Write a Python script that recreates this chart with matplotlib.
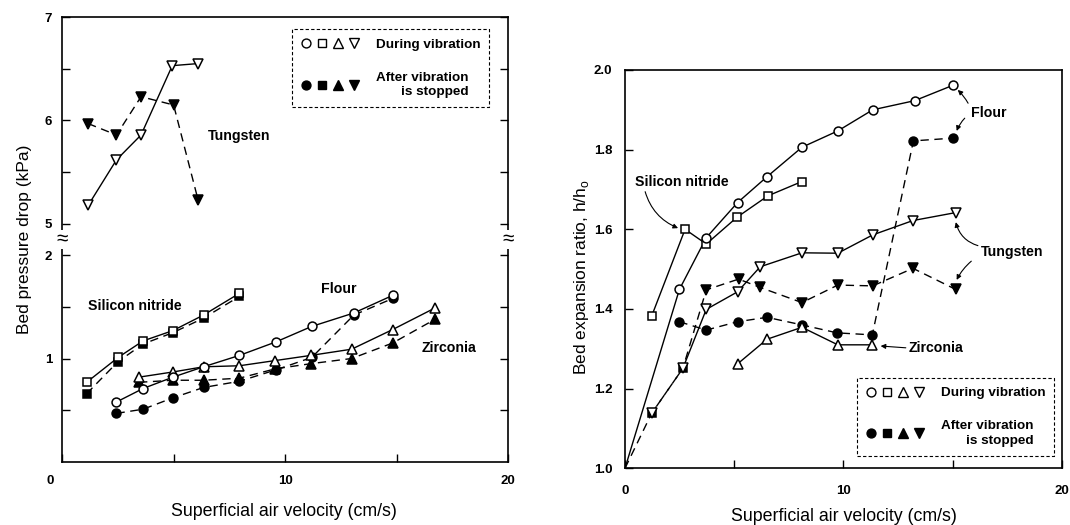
import numpy as np
import matplotlib
matplotlib.use("Agg")
import matplotlib.pyplot as plt
import matplotlib.transforms as mtransforms
from matplotlib.lines import Line2D
from matplotlib.legend_handler import HandlerTuple

plt.rcParams['font.family'] = ['Liberation Sans', 'DejaVu Sans']

# ---- left panel: bed pressure drop (kPa) vs superficial air velocity (cm/s)
tung_v = [1.17, 2.44, 3.54, 4.94, 6.10]
tung_on = [5.18, 5.62, 5.86, 6.53, 6.55]
tung_off_v = [1.17, 2.44, 3.54, 5.00, 6.10]
tung_off = [5.97, 5.86, 6.23, 6.15, 5.23]

sin_v = [1.10, 2.51, 3.63, 4.97, 6.34, 7.95]
sin_on = [0.77, 1.01, 1.17, 1.27, 1.42, 1.63]
sin_off = [0.66, 0.97, 1.14, 1.25, 1.39, 1.60]

flour_v = [2.44, 3.63, 4.97, 6.34, 7.95, 9.58, 11.19, 13.08, 14.82]
flour_on = [0.58, 0.71, 0.82, 0.92, 1.03, 1.16, 1.31, 1.44, 1.61]
flour_off = [0.47, 0.51, 0.62, 0.72, 0.78, 0.89, 1.01, 1.42, 1.58]

zirc_v = [3.45, 4.97, 6.34, 7.95, 9.55, 11.15, 12.98, 14.82, 16.73]
zirc_on = [0.82, 0.87, 0.92, 0.93, 0.98, 1.03, 1.09, 1.28, 1.49]
zirc_off = [0.77, 0.79, 0.79, 0.81, 0.90, 0.95, 1.00, 1.15, 1.38]

# ---- right panel: bed expansion ratio h/ho
flour_r_v = [0, 2.49, 3.72, 5.15, 6.50, 8.10, 9.74, 11.34, 13.26, 15.03]
flour_r_on = [1.0, 1.449, 1.579, 1.667, 1.732, 1.806, 1.847, 1.900, 1.923, 1.962]
flour_r_off_v = [2.49, 3.72, 5.15, 6.50, 8.10, 9.71, 11.32, 13.20, 15.03]
flour_r_off = [1.368, 1.347, 1.368, 1.379, 1.360, 1.340, 1.335, 1.822, 1.829]

sin_r_v = [1.22, 2.75, 3.72, 5.12, 6.54, 8.10]
sin_r_on = [1.382, 1.600, 1.563, 1.630, 1.684, 1.720]
sin_r_off_v = [1.22, 2.65]
sin_r_off = [1.138, 1.251]

tung_r_v = [1.22, 2.65, 3.72, 5.15, 6.19, 8.10, 9.74, 11.34, 13.18, 15.14]
tung_r_on = [1.138, 1.251, 1.399, 1.443, 1.506, 1.541, 1.540, 1.586, 1.622, 1.642]
tung_r_off_v = [0, 1.22, 2.65, 3.72, 5.20, 6.19, 8.10, 9.74, 11.34, 13.18, 15.14]
tung_r_off = [1.0, 1.138, 1.251, 1.448, 1.475, 1.454, 1.416, 1.460, 1.458, 1.502, 1.449]

zirc_r_v = [5.15, 6.50, 8.10, 9.74, 11.32]
zirc_r_on = [1.262, 1.324, 1.354, 1.310, 1.310]


# broken y axis on the left: 0-2 and 5-7 kPa, squeezed gap between
def fwd(y):
    y = np.asarray(y, float)
    return np.where(y <= 2, y, np.where(y >= 5, y - 2.7, 2 + (y - 2) * 0.1))


def inv(v):
    v = np.asarray(v, float)
    return np.where(v <= 2, v, np.where(v >= 2.3, v + 2.7, 2 + (v - 2) / 0.1))


LW = 1.0
MEW = 1.1
DASH = (0, (6, 4))
MSIZE = {'o': 6.4, 's': 6.2, '^': 7.4, 'v': 7.4}


def on(ax, x, y, m, start=0):
    ax.plot(x[start:], y[start:], '-', color='k', lw=LW, zorder=2)
    ax.plot(x, y, ls='none', marker=m, ms=MSIZE[m], mfc='white', mec='k', mew=MEW, zorder=4)


def off(ax, x, y, m, skip=0):
    ax.plot(x, y, color='k', lw=LW, ls=DASH, zorder=2)
    ax.plot(x[skip:], y[skip:], ls='none', marker=m, ms=MSIZE[m], mfc='k', mec='k', mew=MEW,
            zorder=3)


def style_ticks(ax, size):
    for lab in ax.get_xticklabels() + ax.get_yticklabels():
        lab.set_fontweight('bold')
        lab.set_fontsize(size)


def add_legend(ax, anchor):
    op = [Line2D([], [], ls='none', marker=m, ms=MSIZE[m], mfc='white', mec='k', mew=1.0)
          for m in ['o', 's', '^', 'v']]
    fi = [Line2D([], [], ls='none', marker=m, ms=MSIZE[m], mfc='k', mec='k', mew=1.0)
          for m in ['o', 's', '^', 'v']]
    leg = ax.legend([tuple(op), tuple(fi)], ['During vibration', 'After vibration\nis stopped'],
                    handler_map={tuple: HandlerTuple(ndivide=None, pad=0.4)},
                    loc='upper left', bbox_to_anchor=anchor, borderaxespad=0,
                    handlelength=4.4, handletextpad=1.2, labelspacing=1.55,
                    borderpad=0.65, fancybox=False, framealpha=1,
                    prop={'weight': 'bold', 'size': 9.7})
    fr = leg.get_frame()
    fr.set_edgecolor('k')
    fr.set_linewidth(0.8)
    fr.set_linestyle((0, (3, 2)))
    for t in leg.get_texts():
        t.set_multialignment('right')
        t.set_linespacing(1.3)
    return leg


fig = plt.figure(figsize=(10.7, 5.25), dpi=100)
ax1 = fig.add_axes([0.058, 0.12, 0.417, 0.8476])
ax2 = fig.add_axes([0.5841, 0.108, 0.4084, 0.7587])

# ---------------- left
on(ax1, tung_v, tung_on, 'v')
off(ax1, tung_off_v, tung_off, 'v')
off(ax1, sin_v, sin_off, 's')
on(ax1, sin_v, sin_on, 's')
off(ax1, flour_v, flour_off, 'o')
off(ax1, zirc_v, zirc_off, '^')
on(ax1, zirc_v, zirc_on, '^')
on(ax1, flour_v, flour_on, 'o')

ax1.set_yscale('function', functions=(fwd, inv))
ax1.set_xlim(0, 20)
ax1.set_ylim(0, 7)
ax1.set_xticks([0, 10, 20])
ax1.set_xticks([5, 15], minor=True)
ax1.set_yticks([1, 2, 5, 6, 7])
ax1.set_yticklabels(['1', '2', '5', '6', '7'])
ax1.set_yticks([0.5, 1.5, 5.5, 6.5], minor=True)
ax1.yaxis.set_minor_formatter(plt.NullFormatter())
ax1.tick_params(which='both', direction='in', length=6, width=1.0,
                left=True, right=True, top=False)
ax1.tick_params(axis='x', pad=9)
ax1.tick_params(axis='y', pad=7)
style_ticks(ax1, 9.5)
off0 = mtransforms.ScaledTranslation(-12 / 100, 0, fig.dpi_scale_trans)
xl = ax1.get_xticklabels()
xl[0].set_transform(xl[0].get_transform() + off0)
for sp in ax1.spines.values():
    sp.set_linewidth(1.2)
for xb in (0, 20):
    ax1.text(xb, 3.5, '\u2248', ha='center', va='center', fontsize=15,
             clip_on=False, zorder=6,
             bbox=dict(boxstyle='square,pad=0.0', fc='white', ec='none'))

ax1.set_xlabel('Superficial air velocity (cm/s)', fontsize=12.8)
ax1.set_ylabel('Bed pressure drop (kPa)', fontsize=12.5)
ax1.xaxis.set_label_coords(0.498, -0.092)
ax1.yaxis.set_label_coords(-0.068, 0.5)

tb = dict(fontsize=10.2, fontweight='bold', va='center', ha='left')
ax1.text(6.52, 5.85, 'Tungsten', **tb)
ax1.text(1.16, 1.51, 'Silicon nitride', **tb)
ax1.text(11.6, 1.67, 'Flour', **tb)
ax1.text(16.1, 1.10, 'Zirconia', **tb)
add_legend(ax1, (0.515, 0.972))

# ---------------- right
off(ax2, tung_r_off_v, tung_r_off, 'v', skip=3)
off(ax2, sin_r_off_v, sin_r_off, 's')
off(ax2, flour_r_off_v, flour_r_off, 'o')
on(ax2, tung_r_v, tung_r_on, 'v', start=1)
on(ax2, zirc_r_v, zirc_r_on, '^')
on(ax2, sin_r_v, sin_r_on, 's')
ax2.plot(flour_r_v, flour_r_on, '-', color='k', lw=LW, zorder=2)
ax2.plot(flour_r_v[1:], flour_r_on[1:], ls='none', marker='o', ms=MSIZE['o'], mfc='white',
         mec='k', mew=MEW, zorder=4)

ax2.set_xlim(0, 20)
ax2.set_ylim(1.0, 2.0)
ax2.set_xticks([0, 10, 20])
ax2.set_xticks([5, 15], minor=True)
ax2.set_yticks(np.arange(1.0, 2.01, 0.2))
ax2.set_yticklabels(['1.0', '1.2', '1.4', '1.6', '1.8', '2.0'])
ax2.tick_params(which='both', direction='in', length=6, width=1.0,
                left=True, right=False, top=False)
ax2.tick_params(axis='x', pad=12)
ax2.tick_params(axis='y', pad=9)
style_ticks(ax2, 9.5)
for sp in ax2.spines.values():
    sp.set_linewidth(1.2)

ax2.set_xlabel('Superficial air velocity (cm/s)', fontsize=12.8)
ax2.set_ylabel('Bed expansion ratio, h/h$_\\mathregular{o}$', fontsize=12.5)
ax2.xaxis.set_label_coords(0.50, -0.10)
ax2.yaxis.set_label_coords(-0.078, 0.48)

ap = dict(arrowstyle='-|>', color='k', lw=0.8, mutation_scale=7, shrinkA=0, shrinkB=0)
tr = dict(fontsize=10.2, fontweight='bold', va='center', ha='left')
ax2.annotate('Flour', xy=(15.23, 1.950), xytext=(15.83, 1.892),
             arrowprops=dict(ap, relpos=(0, 0.8), connectionstyle='arc3,rad=0.1'), **tr)
ax2.annotate('', xy=(15.18, 1.847), xytext=(15.55, 1.879),
             arrowprops=dict(ap, connectionstyle='arc3,rad=0.1'))
ax2.annotate('Tungsten', xy=(15.14, 1.618), xytext=(16.28, 1.543),
             arrowprops=dict(ap, relpos=(0, 0.9), connectionstyle='arc3,rad=-0.3'), **tr)
ax2.annotate('', xy=(15.18, 1.473), xytext=(15.85, 1.520),
             arrowprops=dict(ap, connectionstyle='arc3,rad=0.1'))
ax2.annotate('Silicon nitride', xy=(2.43, 1.603), xytext=(0.46, 1.719),
             arrowprops=dict(ap, relpos=(0.1, 0), connectionstyle='arc3,rad=0.25'), **tr)
ax2.annotate('Zirconia', xy=(11.70, 1.307), xytext=(12.98, 1.302),
             arrowprops=dict(ap, relpos=(0, 0.5)), **tr)
add_legend(ax2, (0.530, 0.226))

fig.savefig('out.png', dpi=100)
